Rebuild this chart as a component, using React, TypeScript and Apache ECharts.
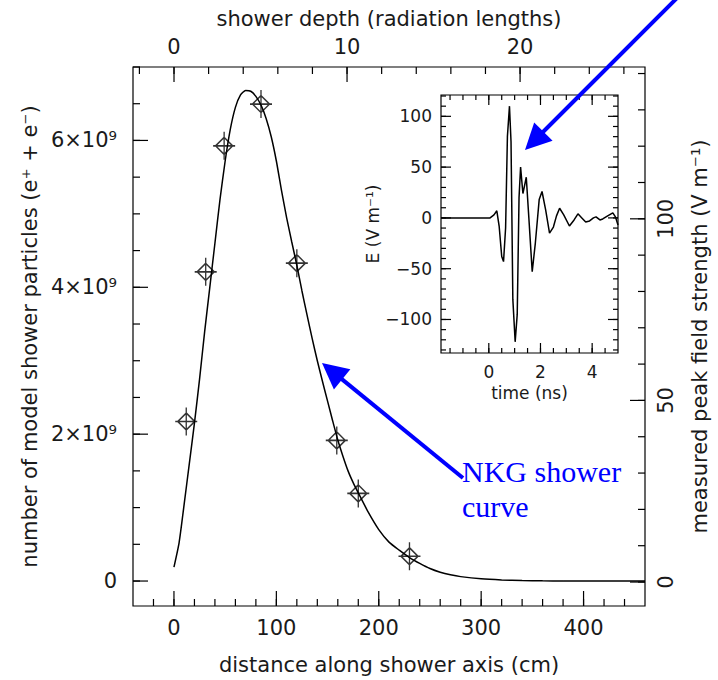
import React, { useEffect, useRef } from "react";
import * as echarts from "echarts";

// ---- data ----
const distanceCm = [0, 5, 10, 15, 20, 25, 30, 35, 40, 45, 50, 55, 60, 65, 70, 75, 80, 85, 90, 95, 100, 105, 110, 115, 120, 125, 130, 135, 140, 145, 150, 155, 160, 165, 170, 175, 180, 190, 200, 210, 220, 230, 240, 250, 260, 270, 280, 300, 320, 340, 360, 380, 400, 460];
const particlesE9 = [0.19, 0.52, 1.05, 1.6, 2.15, 2.75, 3.4, 4.0, 4.6, 5.2, 5.72, 6.15, 6.45, 6.62, 6.68, 6.67, 6.6, 6.48, 6.3, 6.05, 5.72, 5.32, 4.95, 4.62, 4.3, 3.95, 3.62, 3.3, 3.0, 2.72, 2.45, 2.18, 1.92, 1.7, 1.5, 1.34, 1.2, 0.93, 0.7, 0.53, 0.42, 0.32, 0.24, 0.17, 0.12, 0.085, 0.06, 0.03, 0.015, 0.007, 0.003, 0.001, 0, 0];

const measuredCm = [12, 31, 49, 85, 120, 159, 180, 230];
const measuredField = [44.2, 85.4, 120.1, 131.6, 87.8, 39.0, 24.4, 7.1];

const timeNs = [-1.85, 0.05, 0.2, 0.31, 0.4, 0.5, 0.57, 0.65, 0.72, 0.8, 0.86, 0.93, 1.02, 1.1, 1.17, 1.23, 1.32, 1.45, 1.55, 1.68, 1.8, 1.95, 2.06, 2.2, 2.35, 2.5, 2.62, 2.74, 2.9, 3.12, 3.3, 3.45, 3.6, 3.75, 3.9, 4.05, 4.15, 4.3, 4.41, 4.6, 4.8, 4.9, 5.0];
const fieldE = [0, 0, 3, 7, -8, -38, -43, -10, 80, 110, 75, -80, -122, -95, 20, 50, 24, 40, 0, -53, -25, 18, 26, 8, -15, -9, 2, 9.5, 3, -8, -2, 4, 0, -4, -3, 0, 1, -2, -1, 2, 5, 1, -7];

// tick labels
const bottomLabels = [0, 100, 200, 300, 400];
const topLabels = [0, 10, 20];
const leftLabels = [0, 2, 4, 6];
const rightLabels = [0, 50, 100];
const insetXLabels = [0, 2, 4];
const insetYLabels = [-100, -50, 0, 50, 100];

// axis extents
const X_CM = [-40, 460];
const X_RADLEN = [-2.37, 27.22];
const Y_E9 = [-0.34, 7.0];
const Y_FIELD = [-6.6, 141.8];
const T_NS = [-1.85, 5.0];
const E_VM = [-133, 121];

const range = (a: number, b: number, s: number) => {
  const out: number[] = [];
  for (let v = a; v <= b + 1e-9; v += s) out.push(Math.round(v * 1000) / 1000);
  return out;
};

const FONT = "DejaVu Sans";
const TXT = "#1a1a1a";

function axis(gridIndex: number, position: string, ext: number[], labels: number[] | null, label: any, name: any) {
  const a: any = {
    type: "value",
    gridIndex,
    position,
    min: ext[0],
    max: ext[1],
    splitLine: { show: false },
    axisLine: { show: false },
    axisTick: { show: false },
    axisLabel: labels ? { show: true, customValues: labels, color: TXT, fontFamily: FONT, ...label } : { show: false },
  };
  if (name) Object.assign(a, name);
  return a;
}

function ticks(xi: number, yi: number, vals: number[], side: string, len: number, other: number) {
  const isX = side === "bottom" || side === "top";
  return {
    type: "custom",
    xAxisIndex: xi,
    yAxisIndex: yi,
    silent: true,
    clip: false,
    z: 20,
    data: vals.map((v) => (isX ? [v, other] : [other, v])),
    renderItem: (params: any, api: any) => {
      const r = params.coordSys;
      const p = api.coord([api.value(0), api.value(1)]);
      let shape: any;
      if (side === "bottom") shape = { x1: p[0], y1: r.y + r.height, x2: p[0], y2: r.y + r.height - len };
      else if (side === "top") shape = { x1: p[0], y1: r.y, x2: p[0], y2: r.y + len };
      else if (side === "left") shape = { x1: r.x, y1: p[1], x2: r.x + len, y2: p[1] };
      else shape = { x1: r.x + r.width, y1: p[1], x2: r.x + r.width - len, y2: p[1] };
      return { type: "line", shape, style: { stroke: "#000", lineWidth: 1.2 } };
    },
  };
}

function arrow(tail: number[], tip: number[]) {
  const dx = tip[0] - tail[0];
  const dy = tip[1] - tail[1];
  const L = Math.hypot(dx, dy);
  const ux = dx / L, uy = dy / L;
  const hl = 26, hw = 13;
  const bx = tip[0] - ux * hl, by = tip[1] - uy * hl;
  return [
    { type: "line", z: 100, shape: { x1: tail[0], y1: tail[1], x2: bx + ux * 2, y2: by + uy * 2 }, style: { stroke: "#0000ff", lineWidth: 4 } },
    { type: "polygon", z: 100, shape: { points: [tip, [bx - uy * hw, by + ux * hw], [bx + uy * hw, by - ux * hw]] }, style: { fill: "#0000ff" } },
  ];
}

export default function App() {
  const ref = useRef<HTMLDivElement>(null);
  useEffect(() => {
    const chart = echarts.init(ref.current!, null, { renderer: "svg" });
    const nameStyle = { fontFamily: FONT, fontSize: 21, color: TXT };

    const xAxis = [
      axis(0, "bottom", X_CM, bottomLabels, { fontSize: 21, margin: 11 },
        { name: "distance along shower axis (cm)", nameLocation: "middle", nameGap: 48, nameTextStyle: nameStyle }),
      axis(0, "top", X_RADLEN, topLabels, { fontSize: 21, margin: 10 },
        { name: "shower depth (radiation lengths)", nameLocation: "middle", nameGap: 38, nameTextStyle: nameStyle }),
      axis(1, "bottom", T_NS, insetXLabels, { fontSize: 17, margin: 10 },
        { name: "time (ns)", nameLocation: "middle", nameGap: 31, nameTextStyle: { ...nameStyle, fontSize: 17 } }),
    ];
    const yAxis = [
      axis(0, "left", Y_E9, leftLabels, { fontSize: 21, margin: 16, formatter: (v: number) => (v === 0 ? "0" : `${v}×10⁹`) },
        { name: "number of model shower particles (e⁺ + e⁻)", nameLocation: "middle", nameGap: 86, nameTextStyle: nameStyle }),
      axis(0, "right", Y_FIELD, rightLabels, { fontSize: 21, margin: 10, rotate: 90 },
        { name: "measured peak field strength (V m⁻¹)", nameLocation: "middle", nameGap: 44, nameTextStyle: nameStyle }),
      axis(1, "left", E_VM, insetYLabels, { fontSize: 17, margin: 9, formatter: (v: number) => (v < 0 ? "−" + Math.abs(v) : String(v)) },
        { name: "E (V m⁻¹)", nameLocation: "middle", nameGap: 58, nameTextStyle: { ...nameStyle, fontSize: 17 } }),
    ];

    const option: any = {
      animation: false,
      backgroundColor: "#fff",
      grid: [
        { left: 133, top: 67, width: 516, height: 540, show: true, borderColor: "#000", borderWidth: 1.2, backgroundColor: "transparent" },
        { left: 441, top: 95, width: 177, height: 258, show: true, borderColor: "#000", borderWidth: 1.2, backgroundColor: "#fff", z: 5 },
      ],
      xAxis,
      yAxis,
      series: [
        // main frame ticks
        ticks(0, 0, range(-20, 440, 20), "bottom", 7, 0),
        ticks(0, 0, bottomLabels, "bottom", 15, 0),
        ticks(1, 0, range(-2, 26, 2), "top", 7, 0),
        ticks(1, 0, topLabels, "top", 15, 0),
        ticks(0, 0, range(0, 7, 0.5), "left", 7, 0),
        ticks(0, 0, leftLabels, "left", 15, 0),
        ticks(0, 1, range(0, 140, 10), "right", 7, 0),
        ticks(0, 1, rightLabels, "right", 15, 0),
        // inset ticks
        ticks(2, 2, range(-1.5, 4.5, 0.5), "bottom", 5, 0),
        ticks(2, 2, insetXLabels, "bottom", 10, 0),
        ticks(2, 2, range(-1.5, 4.5, 0.5), "top", 5, 0),
        ticks(2, 2, insetXLabels, "top", 10, 0),
        ticks(2, 2, range(-130, 120, 10), "left", 5, 0),
        ticks(2, 2, insetYLabels, "left", 10, 0),
        ticks(2, 2, range(-130, 120, 10), "right", 5, 0),
        ticks(2, 2, insetYLabels, "right", 10, 0),
        {
          type: "line",
          xAxisIndex: 0,
          yAxisIndex: 0,
          data: distanceCm.map((x, i) => [x, particlesE9[i]]),
          showSymbol: false,
          smooth: 0.2,
          lineStyle: { color: "#000", width: 1.5 },
        },
        {
          type: "scatter",
          xAxisIndex: 0,
          yAxisIndex: 1,
          data: measuredCm.map((x, i) => [x, measuredField[i]]),
          symbol: "path://M11 0 L11 28 M0 14 L22 14 M11 5.5 L19.5 14 L11 22.5 L2.5 14 Z",
          symbolSize: [22, 28],
          itemStyle: { color: "rgba(0,0,0,0)", borderColor: "#000", borderWidth: 1.5 },
        },
        {
          type: "line",
          xAxisIndex: 2,
          yAxisIndex: 2,
          z: 10,
          data: timeNs.map((t, i) => [t, fieldE[i]]),
          showSymbol: false,
          lineStyle: { color: "#000", width: 1.5 },
        },
      ],
      graphic: [
        ...arrow([690, -15], [525, 150]),
        ...arrow([463, 478], [322, 363]),
        {
          type: "text",
          z: 100,
          x: 462,
          y: 454,
          style: { text: "NKG shower\ncurve", fill: "#0000ff", font: '30px "Liberation Serif"', lineHeight: 35 },
        },
      ],
    };
    chart.setOption(option);
    return () => chart.dispose();
  }, []);
  return <div ref={ref} style={{ position: "absolute", left: 0, top: 0, width: 718, height: 680 }} />;
}
